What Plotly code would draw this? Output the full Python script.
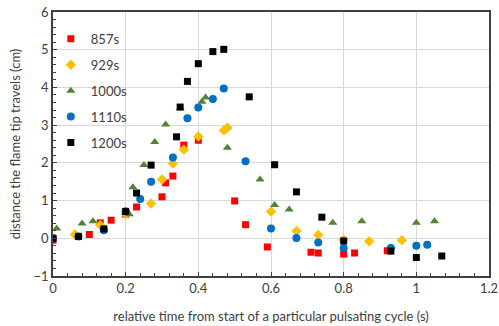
import plotly.graph_objects as go

x_857 = [0.00, 0.10, 0.13, 0.16, 0.20, 0.23, 0.30, 0.31, 0.33, 0.36, 0.40, 0.50, 0.53, 0.59, 0.71, 0.73, 0.80, 0.83, 0.92]
y_857 = [-0.05, 0.10, 0.41, 0.48, 0.64, 0.83, 1.10, 1.47, 1.65, 2.47, 2.60, 0.99, 0.36, -0.23, -0.37, -0.39, -0.42, -0.39, -0.33]

x_929 = [0.06, 0.13, 0.20, 0.27, 0.30, 0.33, 0.36, 0.40, 0.47, 0.48, 0.60, 0.67, 0.73, 0.80, 0.87, 0.96]
y_929 = [0.10, 0.35, 0.64, 0.92, 1.56, 1.98, 2.35, 2.70, 2.86, 2.93, 0.71, 0.19, 0.09, -0.04, -0.08, -0.05]

x_1000 = [0.01, 0.08, 0.11, 0.21, 0.22, 0.25, 0.28, 0.31, 0.35, 0.41, 0.42, 0.48, 0.57, 0.61, 0.65, 0.77, 0.85, 1.00, 1.05]
y_1000 = [0.26, 0.39, 0.45, 0.64, 1.35, 1.94, 2.55, 3.02, 3.45, 3.62, 3.73, 2.40, 1.56, 0.88, 0.76, 0.41, 0.45, 0.41, 0.45]

x_1110 = [0.00, 0.07, 0.14, 0.20, 0.24, 0.27, 0.33, 0.37, 0.40, 0.44, 0.47, 0.53, 0.60, 0.67, 0.73, 0.80, 0.93, 1.00, 1.03]
y_1110 = [0.00, 0.05, 0.21, 0.72, 1.04, 1.50, 2.14, 3.18, 3.47, 3.69, 3.97, 2.04, 0.26, 0.01, -0.11, -0.26, -0.26, -0.20, -0.17]

x_1200 = [0.00, 0.07, 0.14, 0.20, 0.23, 0.27, 0.34, 0.35, 0.37, 0.40, 0.44, 0.47, 0.54, 0.61, 0.67, 0.74, 0.80, 0.93, 1.00, 1.07]
y_1200 = [0.00, 0.05, 0.25, 0.71, 1.20, 1.94, 2.69, 3.48, 4.16, 4.63, 4.95, 5.01, 3.75, 1.95, 1.23, 0.56, -0.07, -0.34, -0.51, -0.47]

series = [
    ("857s", x_857, y_857, "square", "#FF0000", 7),
    ("929s", x_929, y_929, "diamond", "#FFC000", 8),
    ("1000s", x_1000, y_1000, "triangle-up", "#548235", 8),
    ("1110s", x_1110, y_1110, "circle", "#0070C0", 8),
    ("1200s", x_1200, y_1200, "square", "#000000", 7),
]

x_ticks = [0, 0.2, 0.4, 0.6, 0.8, 1, 1.2]
x_tick_labels = ["0", "0.2", "0.4", "0.6", "0.8", "1", "1.2"]
y_ticks = [-1, 0, 1, 2, 3, 4, 5, 6]

fig = go.Figure()
for name, xs, ys, sym, col, sz in series:
    fig.add_trace(go.Scatter(
        x=xs, y=ys, mode="markers", name=name, legendgroup=name,
        marker=dict(symbol=sym, color=col, size=sz, line=dict(width=0)),
    ))

font_family = "Lato, Open Sans, sans-serif"
fig.update_layout(
    width=499, height=326,
    margin=dict(l=53, r=10, t=12, b=50),
    paper_bgcolor="white", plot_bgcolor="white",
    font=dict(family=font_family, size=12, color="#404040"),
    legend=dict(x=-0.005, y=0.955, xanchor="left", yanchor="top",
                bgcolor="rgba(0,0,0,0)", tracegroupgap=6,
                font=dict(size=13, color="#404040"), itemwidth=30),
    xaxis=dict(
        range=[0, 1.2], tickvals=x_ticks, ticktext=x_tick_labels,
        automargin=False, ticklabeloverflow="allow",
        showgrid=True, gridcolor="#D9D9D9", gridwidth=1, zeroline=False,
        showline=True, linecolor="#404040", linewidth=1.5, mirror=True,
        ticks="inside", ticklen=4, tickcolor="#404040",
        minor=dict(dtick=0.04, ticks="inside", ticklen=3, tickcolor="#404040", showgrid=False),
        tickfont=dict(size=13, color="#404040"),
        title=dict(text="relative time from start of a particular pulsating cycle (s)",
                   font=dict(size=13, color="#404040"), standoff=17),
    ),
    yaxis=dict(
        range=[-1, 6], tickvals=y_ticks,
        automargin=False,
        showgrid=True, gridcolor="#D9D9D9", gridwidth=1, zeroline=False,
        showline=True, linecolor="#404040", linewidth=1.5, mirror=True,
        ticks="inside", ticklen=4, tickcolor="#404040",
        minor=dict(dtick=0.2, ticks="inside", ticklen=3, tickcolor="#404040", showgrid=False),
        tickfont=dict(size=13, color="#404040"),
        title=dict(text="distance the flame tip travels (cm)",
                   font=dict(size=13, color="#404040"), standoff=10),
    ),
)

fig.write_html("out.html")
